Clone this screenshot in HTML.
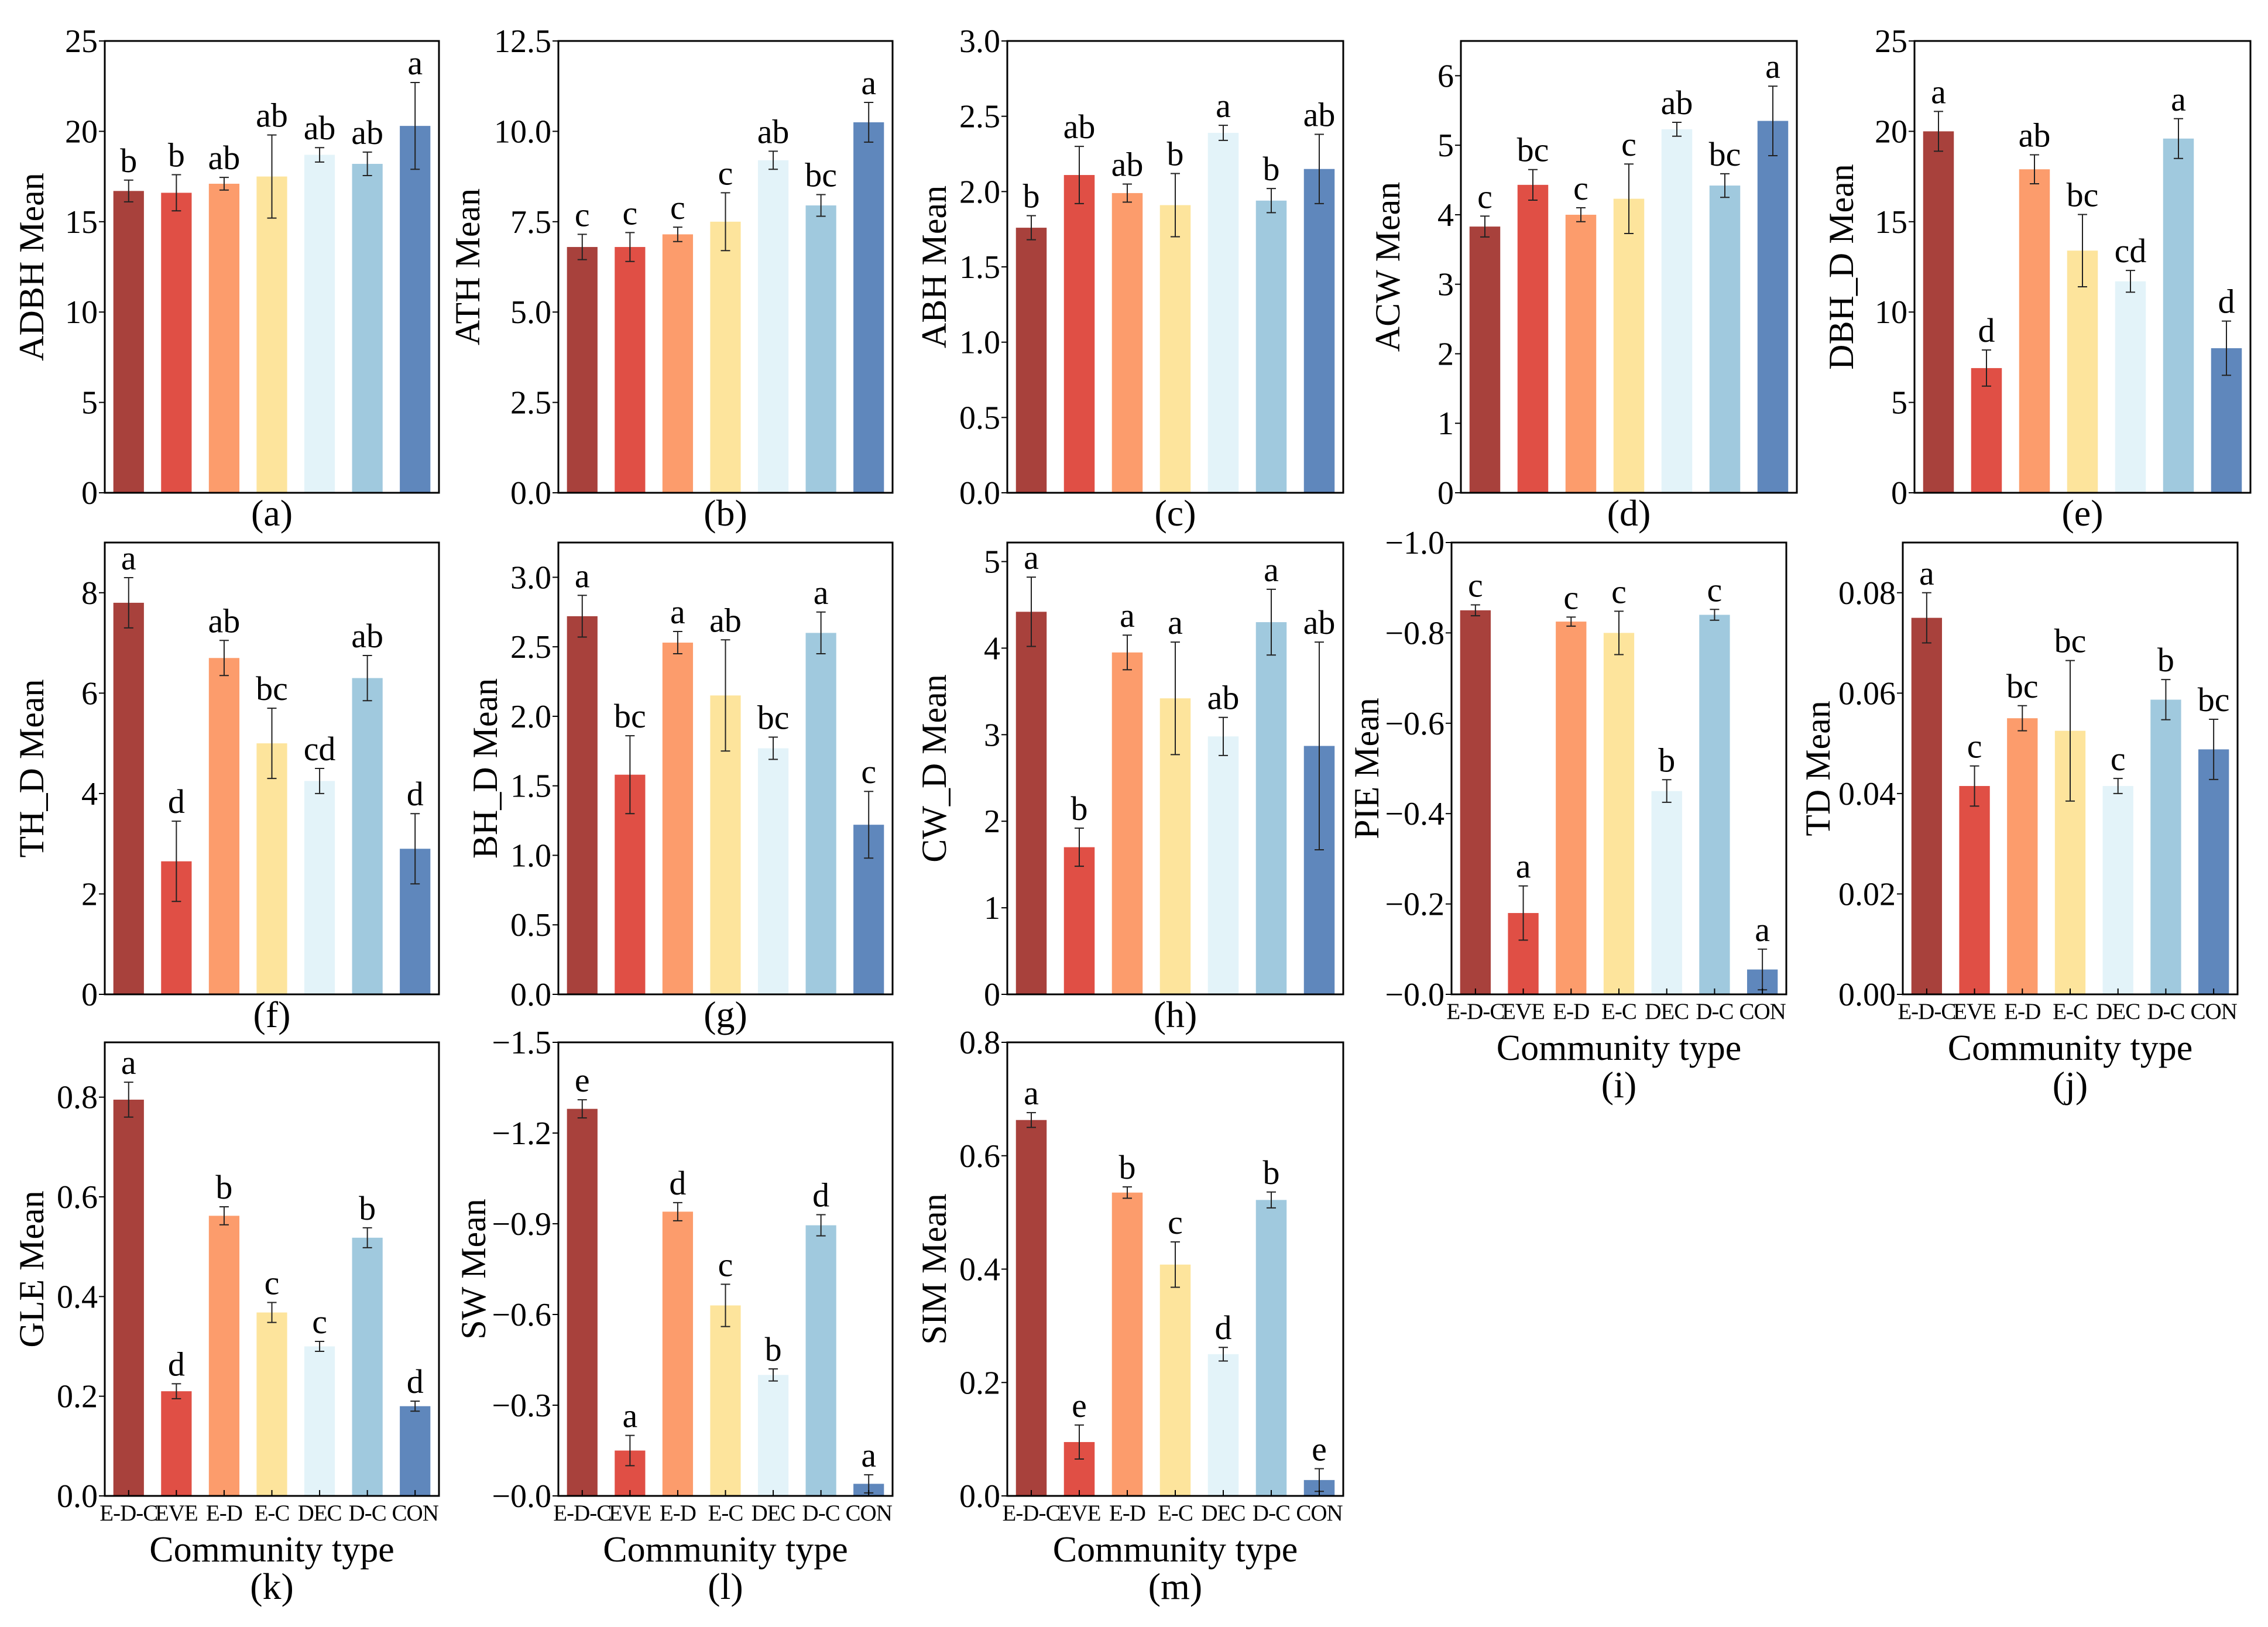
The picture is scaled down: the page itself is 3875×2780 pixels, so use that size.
<!DOCTYPE html>
<html><head><meta charset="utf-8"><style>
html,body{margin:0;padding:0;background:#fff}
svg{display:block}
text{font-family:"Liberation Serif",serif;fill:#000}
</style></head><body>
<svg id="fig" width="3875" height="2780" viewBox="0 0 3875 2780" xmlns="http://www.w3.org/2000/svg"></svg>
<script>
const categories = ["E-D-C","EVE","E-D","E-C","DEC","D-C","CON"];
const colors = ["#a8413c","#e04f45","#fc9c6c","#fde49c","#e3f3f9","#a0c9de","#5f87bc"];

const valsA=[16.7,16.6,17.1,17.5,18.7,18.2,20.3], errA=[0.6,1.0,0.35,2.3,0.4,0.65,2.4], letA=["b","b","ab","ab","ab","ab","a"];
const valsB=[6.8,6.8,7.15,7.5,9.2,7.95,10.25], errB=[0.35,0.4,0.2,0.8,0.25,0.3,0.55], letB=["c","c","c","c","ab","bc","a"];
const valsC=[1.76,2.11,1.99,1.91,2.39,1.94,2.15], errC=[0.08,0.19,0.06,0.21,0.05,0.08,0.23], letC=["b","ab","ab","b","a","b","ab"];
const valsD=[3.83,4.43,4.0,4.23,5.23,4.42,5.35], errD=[0.15,0.22,0.1,0.5,0.1,0.17,0.5], letD=["c","bc","c","c","ab","bc","a"];
const valsE=[20.0,6.9,17.9,13.4,11.7,19.6,8.0], errE=[1.1,1.0,0.8,2.0,0.6,1.1,1.5], letE=["a","d","ab","bc","cd","a","d"];
const valsF=[7.8,2.65,6.7,5.0,4.25,6.3,2.9], errF=[0.5,0.8,0.35,0.7,0.25,0.45,0.7], letF=["a","d","ab","bc","cd","ab","d"];
const valsG=[2.72,1.58,2.53,2.15,1.77,2.6,1.22], errG=[0.15,0.28,0.08,0.4,0.08,0.15,0.24], letG=["a","bc","a","ab","bc","a","c"];
const valsH=[4.42,1.7,3.95,3.42,2.98,4.3,2.87], errH=[0.4,0.22,0.2,0.65,0.22,0.38,1.2], letH=["a","b","a","a","ab","a","ab"];
const valsI=[0.85,0.18,0.825,0.80,0.45,0.84,0.055], errI=[0.012,0.06,0.01,0.048,0.025,0.012,0.045], letI=["c","a","c","c","b","c","a"];
const valsJ=[0.075,0.0415,0.055,0.0525,0.0415,0.0587,0.0488], errJ=[0.005,0.004,0.0025,0.014,0.0015,0.004,0.006], letJ=["a","c","bc","bc","c","b","bc"];
const valsK=[0.795,0.21,0.562,0.368,0.30,0.518,0.18], errK=[0.035,0.015,0.018,0.02,0.01,0.02,0.01], letK=["a","d","b","c","c","b","d"];
const valsL=[1.28,0.15,0.94,0.63,0.40,0.895,0.04], errL=[0.03,0.05,0.03,0.07,0.02,0.035,0.03], letL=["e","a","d","c","b","d","a"];
const valsM=[0.663,0.095,0.535,0.408,0.25,0.522,0.028], errM=[0.013,0.03,0.01,0.04,0.012,0.014,0.02], letM=["a","e","b","c","d","b","e"];

const ticksA=["0","5","10","15","20","25"];
const ticksB=["0.0","2.5","5.0","7.5","10.0","12.5"];
const ticksC=["0.0","0.5","1.0","1.5","2.0","2.5","3.0"];
const ticksD=["0","1","2","3","4","5","6"];
const ticksF=["0","2","4","6","8"];
const ticksG=["0.0","0.5","1.0","1.5","2.0","2.5","3.0"];
const ticksH=["0","1","2","3","4","5"];
const ticksI=["0.0","0.2","0.4","0.6","0.8","1.0"];
const ticksJ=["0.00","0.02","0.04","0.06","0.08"];
const ticksK=["0.0","0.2","0.4","0.6","0.8"];
const ticksL=["0.0","0.3","0.6","0.9","1.2","1.5"];
const ticksM=["0.0","0.2","0.4","0.6","0.8"];

const NS="http://www.w3.org/2000/svg";
const svg=document.getElementById("fig");
function mk(tag,attrs,parent){const e=document.createElementNS(NS,tag);for(const k in attrs)e.setAttribute(k,attrs[k]);(parent||svg).appendChild(e);return e;}

const panels=[
 {id:"a",x0:179,x1:750,y0:70,y1:842,max:25,vals:valsA,err:errA,let:letA,ticks:ticksA,yl:"ADBH Mean",neg:false,xl:false},
 {id:"b",x0:954,x1:1525,y0:70,y1:842,max:12.5,vals:valsB,err:errB,let:letB,ticks:ticksB,yl:"ATH Mean",neg:false,xl:false},
 {id:"c",x0:1721,x1:2295,y0:70,y1:842,max:3.0,vals:valsC,err:errC,let:letC,ticks:ticksC,yl:"ABH Mean",neg:false,xl:false},
 {id:"d",x0:2496,x1:3070,y0:70,y1:842,max:6.5,vals:valsD,err:errD,let:letD,ticks:ticksD,yl:"ACW Mean",neg:false,xl:false},
 {id:"e",x0:3271,x1:3845,y0:70,y1:842,max:25,vals:valsE,err:errE,let:letE,ticks:ticksA,yl:"DBH_D Mean",neg:false,xl:false},
 {id:"f",x0:179,x1:750,y0:927,y1:1699,max:9,vals:valsF,err:errF,let:letF,ticks:ticksF,yl:"TH_D Mean",neg:false,xl:false},
 {id:"g",x0:954,x1:1525,y0:927,y1:1699,max:3.25,vals:valsG,err:errG,let:letG,ticks:ticksG,yl:"BH_D Mean",neg:false,xl:false},
 {id:"h",x0:1721,x1:2295,y0:927,y1:1699,max:5.22,vals:valsH,err:errH,let:letH,ticks:ticksH,yl:"CW_D Mean",neg:false,xl:false},
 {id:"i",x0:2480,x1:3052,y0:927,y1:1699,max:1.0,vals:valsI,err:errI,let:letI,ticks:ticksI,yl:"PIE Mean",neg:true,xl:true},
 {id:"j",x0:3251,x1:3823,y0:927,y1:1699,max:0.09,vals:valsJ,err:errJ,let:letJ,ticks:ticksJ,yl:"TD Mean",neg:false,xl:true},
 {id:"k",x0:179,x1:750,y0:1781,y1:2556,max:0.91,vals:valsK,err:errK,let:letK,ticks:ticksK,yl:"GLE Mean",neg:false,xl:true},
 {id:"l",x0:954,x1:1525,y0:1781,y1:2556,max:1.5,vals:valsL,err:errL,let:letL,ticks:ticksL,yl:"SW Mean",neg:true,xl:true},
 {id:"m",x0:1721,x1:2295,y0:1781,y1:2556,max:0.8,vals:valsM,err:errM,let:letM,ticks:ticksM,yl:"SIM Mean",neg:false,xl:true}
];

panels.forEach(p=>{
  const g=mk("g",{});
  
  
  const y=v=>p.y1-(v/p.max)*(p.y1-p.y0);
  const slot=(p.x1-p.x0)/7;
  const bw=slot*0.64;
  p.vals.forEach((v,i)=>{
    const cx=p.x0+slot*(i+0.5);
    const r=mk("rect",{x:cx-bw/2,y:y(v),width:bw,height:p.y1-y(v),fill:colors[i]},g);
    
    
    const e=p.err[i], top=y(v+e), bot=y(Math.max(0,v-e));
    const eb=mk("path",{d:`M${cx},${top}V${bot}M${cx-8},${top}H${cx+8}M${cx-8},${bot}H${cx+8}`,stroke:"#222","stroke-width":2,fill:"none"},g);
    
    
    const t=mk("text",{x:cx,y:top-14,"text-anchor":"middle","font-size":58},g);
    t.textContent=p.let[i];
    
    
    if(p.xl){
      mk("line",{x1:cx,x2:cx,y1:p.y1,y2:p.y1-10,stroke:"#000","stroke-width":2},g);
      const xt=mk("text",{x:cx,y:p.y1+42,"text-anchor":"middle","font-size":39,"letter-spacing":"-1"},g);
      xt.textContent=categories[i];
      
      
    }
  });
  const fr=mk("rect",{x:p.x0,y:p.y0,width:p.x1-p.x0,height:p.y1-p.y0,fill:"none",stroke:"#000","stroke-width":3},g);
  
  
  p.ticks.forEach(tl=>{
    const v=parseFloat(tl), ty=y(v);
    mk("line",{x1:p.x0-10,x2:p.x0,y1:ty,y2:ty,stroke:"#000","stroke-width":2},g);
    const t=mk("text",{x:p.x0-12,y:ty+19,"text-anchor":"end","font-size":56},g);
    t.textContent=(p.neg?"\u2212":"")+tl;
    
    
  });
  const lx=p.x0-(p.neg||p.id==="j"?125:(p.ticks[p.ticks.length-1].length>=4?135:105));
  const yl=mk("text",{x:0,y:0,"text-anchor":"middle","font-size":60,transform:`translate(${lx},${(p.y0+p.y1)/2}) rotate(-90)`},g);
  yl.textContent=p.yl;
  
  
  const cxm=(p.x0+p.x1)/2;
  let ply=p.y1+56;
  if(p.xl){
    const ct=mk("text",{x:cxm,y:p.y1+112,"text-anchor":"middle","font-size":62},g);
    ct.textContent="Community type";
    
    
    ply=p.y1+176;
  }
  const pl=mk("text",{x:cxm,y:ply,"text-anchor":"middle","font-size":64},g);
  pl.textContent="("+p.id+")";
  
  
});
</script>
</body></html>
